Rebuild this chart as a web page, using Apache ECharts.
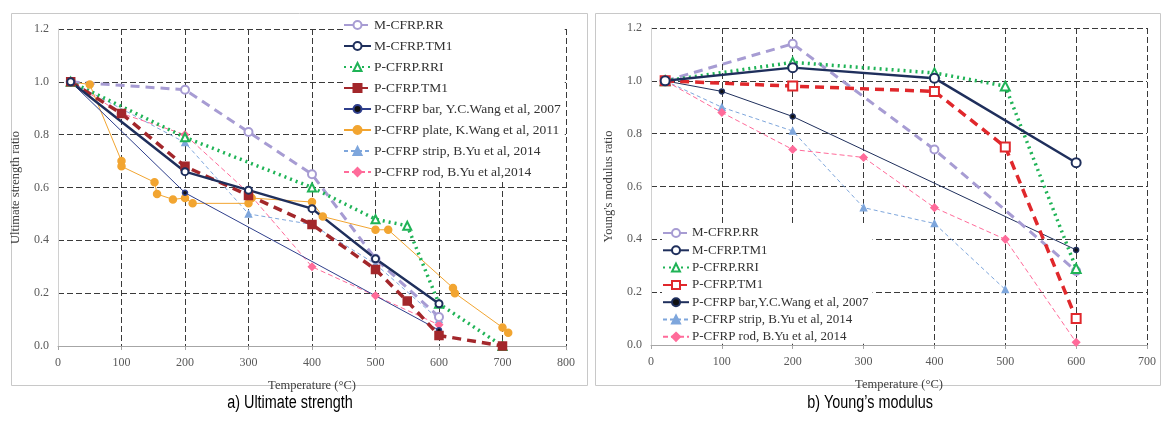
<!DOCTYPE html>
<html>
<head>
<meta charset="utf-8">
<script src="https://cdn.jsdelivr.net/npm/echarts@6/dist/echarts.min.js"></script>
<style>
html, body { margin: 0; padding: 0; background: #fff; }
#main { width: 1161px; height: 425px; }
</style>
</head>
<body>
<div id="main"></div>
<script>
// a) ultimate strength ratio vs temperature
var sRR   = [[20, 1.0], [200, 0.97], [300, 0.81], [400, 0.65], [500, 0.33], [600, 0.11]];
var sTM1  = [[20, 1.0], [200, 0.66], [300, 0.59], [400, 0.52], [500, 0.33], [600, 0.16]];
var sPRRI = [[20, 1.0], [200, 0.79], [400, 0.60], [500, 0.48], [550, 0.455], [600, 0.16], [700, 0.0]];
var sPTM1 = [[20, 1.0], [100, 0.88], [200, 0.68], [300, 0.57], [400, 0.46], [500, 0.29], [550, 0.17], [600, 0.04], [700, 0.0]];
var sBar  = [[20, 1.0], [200, 0.58], [600, 0.06]];
var sPlate = [[20, 1.0], [50, 0.99], [100, 0.70], [100, 0.68], [152, 0.62], [156, 0.575], [181, 0.555],
              [200, 0.56], [212, 0.54], [300, 0.54], [305, 0.56], [400, 0.545], [417, 0.49], [500, 0.44],
              [520, 0.44], [622, 0.22], [625, 0.20], [700, 0.07], [709, 0.05]];
var sStrip = [[20, 1.0], [200, 0.77], [300, 0.50], [400, 0.46], [500, 0.31], [600, 0.10]];
var sRod   = [[20, 1.0], [100, 0.88], [200, 0.80], [300, 0.58], [400, 0.30], [500, 0.19], [600, 0.08]];

// b) young's modulus ratio vs temperature
var eRR   = [[20, 1.0], [200, 1.14], [400, 0.74], [600, 0.28]];
var eTM1  = [[20, 1.0], [200, 1.05], [400, 1.01], [600, 0.69]];
var ePRRI = [[20, 1.0], [200, 1.07], [400, 1.03], [500, 0.98], [600, 0.29]];
var ePTM1 = [[20, 1.0], [200, 0.98], [400, 0.96], [500, 0.75], [600, 0.10]];
var eBar  = [[20, 1.0], [100, 0.96], [200, 0.865], [600, 0.36]];
var eStrip = [[20, 1.0], [100, 0.90], [200, 0.81], [300, 0.52], [400, 0.46], [500, 0.21]];
var eRod   = [[20, 1.0], [100, 0.88], [200, 0.74], [300, 0.71], [400, 0.52], [500, 0.40], [600, 0.01]];

var namesA = ['M-CFRP.RR', 'M-CFRP.TM1', 'P-CFRP.RRI', 'P-CFRP.TM1',
    'P-CFRP bar, Y.C.Wang et al, 2007', 'P-CFRP plate, K.Wang et al, 2011',
    'P-CFRP strip, B.Yu et al, 2014', 'P-CFRP rod, B.Yu et al,2014'];
// trailing space keeps the right-hand series apart from the left ones
var namesB = ['M-CFRP.RR ', 'M-CFRP.TM1 ', 'P-CFRP.RRI ', 'P-CFRP.TM1 ',
    'P-CFRP bar,Y.C.Wang et al, 2007', 'P-CFRP strip, B.Yu et al, 2014 ', 'P-CFRP rod, B.Yu et al, 2014'];

var dom = document.getElementById('main');
var myChart = echarts.init(dom);

var serif = 'Liberation Serif';

function xAxisFor(idx, max) {
    return {
        gridIndex: idx, type: 'value', min: 0, max: max, interval: 100,
        name: 'Temperature (°C)', nameLocation: 'middle', nameGap: 33,
        nameTextStyle: { fontFamily: serif, fontSize: 12.5, color: '#404040' },
        axisLine: { lineStyle: { color: '#a6a6a6' } },
        axisTick: { show: true, length: 4, lineStyle: { color: '#a6a6a6' } },
        axisLabel: { fontFamily: serif, fontSize: 12, color: '#595959', margin: 11 },
        splitLine: { show: true, lineStyle: { color: '#3a3a3a', type: [6, 3], width: 1 } }
    };
}
function yAxisFor(idx, title) {
    return {
        gridIndex: idx, type: 'value', min: 0, max: 1.2, interval: 0.2,
        name: title, nameLocation: 'middle', nameGap: 36,
        nameTextStyle: { fontFamily: serif, fontSize: 12.5, color: '#404040' },
        axisLine: { show: true, lineStyle: { color: '#d0d0d0' } },
        axisTick: { show: false },
        axisLabel: { fontFamily: serif, fontSize: 12, color: '#595959', margin: 9,
            formatter: function (v) { return v.toFixed(1); } },
        splitLine: { show: true, lineStyle: { color: '#3a3a3a', type: [6, 3], width: 1 } }
    };
}

function line(name, data, idx, color, type, width, symbol, size, fill) {
    return {
        type: 'line', name: name, data: data, xAxisIndex: idx, yAxisIndex: idx,
        symbol: symbol, symbolSize: size, showSymbol: true,
        lineStyle: { color: color, type: type, width: width },
        itemStyle: { color: fill || color, borderColor: color, borderWidth: 1.5 },
        z: 2
    };
}

var series = [
    line(namesA[6], sStrip, 0, '#7ea6dc', [4, 3], 1, 'triangle', 6),
    line(namesA[7], sRod, 0, '#ff6b9a', [5, 3], 1, 'diamond', 7),
    line(namesA[5], sPlate, 0, '#f2a531', 'solid', 1, 'circle', 7),
    line(namesA[4], sBar, 0, '#2f3f8c', 'solid', 1, 'circle', 5, '#111'),
    line(namesA[0], sRR, 0, '#a79cd3', [9, 6], 3, 'emptyCircle', 8),
    line(namesA[2], sPRRI, 0, '#1fb356', [2, 4], 3.5, 'emptyTriangle', 8),
    line(namesA[3], sPTM1, 0, '#a3272b', [9, 6], 3.5, 'rect', 8),
    line(namesA[1], sTM1, 0, '#1f2f5c', 'solid', 2.5, 'emptyCircle', 7),

    line(namesB[5], eStrip, 1, '#7ea6dc', [4, 3], 1, 'triangle', 6),
    line(namesB[6], eRod, 1, '#ff6b9a', [5, 3], 1, 'diamond', 7),
    line(namesB[4], eBar, 1, '#1f2f5c', 'solid', 1, 'circle', 5, '#111'),
    line(namesB[0], eRR, 1, '#a79cd3', [9, 6], 3, 'emptyCircle', 8),
    line(namesB[2], ePRRI, 1, '#1fb356', [2, 4], 3.5, 'emptyTriangle', 9),
    line(namesB[3], ePTM1, 1, '#e0282c', [9, 6], 3.5, 'emptyRect', 9),
    line(namesB[1], eTM1, 1, '#1f2f5c', 'solid', 2.5, 'emptyCircle', 9)
];

var option = {
    animation: false,
    backgroundColor: '#fff',
    grid: [
        { left: 58, right: 1161 - 566, top: 29, bottom: 425 - 346 },
        { left: 651, right: 1161 - 1147, top: 28, bottom: 425 - 345 }
    ],
    xAxis: [xAxisFor(0, 800), xAxisFor(1, 700)],
    yAxis: [yAxisFor(0, 'Ultimate strength ratio'), yAxisFor(1, 'Young\'s modulus ratio')],
    legend: [{
        data: namesA, orient: 'vertical', left: 343, top: 18,
        itemWidth: 27, itemHeight: 10, itemGap: 7,
        backgroundColor: '#fff', padding: [0, 4, 0, 0],
        textStyle: { fontFamily: serif, fontSize: 13.5, lineHeight: 14, color: '#333', padding: [0, 0, 0, -2] }
    }, {
        data: namesB, orient: 'vertical', left: 662, top: 226,
        itemWidth: 26, itemHeight: 10, itemGap: 3.3,
        backgroundColor: '#fff', padding: [0, 4, 0, 0],
        textStyle: { fontFamily: serif, fontSize: 13, lineHeight: 14, color: '#333', padding: [0, 0, 0, -2] }
    }],
    graphic: [
        { type: 'rect', left: 9, top: 11, z: -1, silent: true,
          shape: { width: 576, height: 372 }, style: { fill: 'none', stroke: '#c8c8c8', lineWidth: 1 } },
        { type: 'rect', left: 593, top: 11, z: -1, silent: true,
          shape: { width: 565, height: 372 }, style: { fill: 'none', stroke: '#c8c8c8', lineWidth: 1 } },
        { type: 'text', x: 290, y: 403, scaleX: 0.8, silent: true,
          style: { text: 'a) Ultimate strength', fontFamily: 'Liberation Sans', fontSize: 18,
                   fill: '#000', align: 'center', verticalAlign: 'middle' } },
        { type: 'text', x: 870, y: 403, scaleX: 0.8, silent: true,
          style: { text: 'b) Young\u2019s modulus', fontFamily: 'Liberation Sans', fontSize: 18,
                   fill: '#000', align: 'center', verticalAlign: 'middle' } }
    ],
    series: series
};

if (option && typeof option === 'object') {
    myChart.setOption(option, true);
}
</script>
</body>
</html>
